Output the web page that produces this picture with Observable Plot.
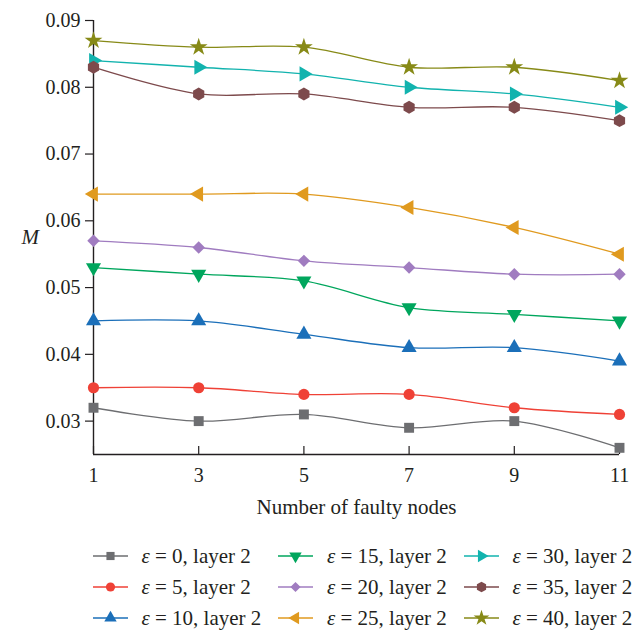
<!DOCTYPE html>
<html><head><meta charset="utf-8">
<script src="https://cdn.jsdelivr.net/npm/d3@7"></script>
<script src="https://cdn.jsdelivr.net/npm/@observablehq/plot@0.6"></script>
<style>
body{margin:0;background:#fff;font-family:"Liberation Serif",serif;color:#231f20;}
</style>
</head><body><script>
// Data
const nodes = [1, 3, 5, 7, 9, 11];
const epsilons = [0, 5, 10, 15, 20, 25, 30, 35, 40];
const layer = 2;
const m_eps0  = [0.032, 0.030, 0.031, 0.029, 0.030, 0.026];
const m_eps5  = [0.035, 0.035, 0.034, 0.034, 0.032, 0.031];
const m_eps10 = [0.045, 0.045, 0.043, 0.041, 0.041, 0.039];
const m_eps15 = [0.053, 0.052, 0.051, 0.047, 0.046, 0.045];
const m_eps20 = [0.057, 0.056, 0.054, 0.053, 0.052, 0.052];
const m_eps25 = [0.064, 0.064, 0.064, 0.062, 0.059, 0.055];
const m_eps30 = [0.084, 0.083, 0.082, 0.080, 0.079, 0.077];
const m_eps35 = [0.083, 0.079, 0.079, 0.077, 0.077, 0.075];
const m_eps40 = [0.087, 0.086, 0.086, 0.083, 0.083, 0.081];
const seriesValues = [m_eps0, m_eps5, m_eps10, m_eps15, m_eps20, m_eps25, m_eps30, m_eps35, m_eps40];
const xTicks = [1, 3, 5, 7, 9, 11];
const yTicks = [0.03, 0.04, 0.05, 0.06, 0.07, 0.08, 0.09];
const xLabel = "Number of faulty nodes";
const yLabel = "M";

// Styles
const colors = ["#6d6e71", "#ef4136", "#1b6fb9", "#00a65d", "#a07cc0", "#e09a1f", "#12b3ae", "#7d4a4c", "#878a17"];
const symbols = ["square", "circle", "triangle", "triangle", "diamond2", "triangle", "triangle", "hexagon", "star"];
const rotations = [0, 0, 0, 180, 0, -90, 90, 0, 0];

const names = epsilons.map(e => `ε = ${e}, layer ${layer}`);
const rows = [];
seriesValues.forEach((vals, i) => {
  vals.forEach((v, j) => rows.push({series: names[i], idx: i, x: nodes[j], y: v}));
});
const isStar = d => symbols[d.idx] === "star";

const yMin = 0.025, yMax = 0.09;
const ink = "#231f20";

const chart = Plot.plot({
  width: 641, height: 530,
  marginLeft: 93, marginRight: 22, marginTop: 20, marginBottom: 76,
  style: {fontFamily: "'Liberation Serif', serif", fontSize: "20px", color: ink, background: "#fff", overflow: "visible"},
  x: {domain: [1, 11]},
  y: {domain: [yMin, yMax]},
  color: {domain: names, range: colors},
  symbol: {domain: names, range: symbols},
  marks: [
    Plot.ruleX([1], {y1: yMin, y2: yMax, stroke: ink, strokeWidth: 1.4}),
    Plot.ruleY([yMin], {x1: 1, x2: 11, stroke: ink, strokeWidth: 1.4}),
    Plot.axisY(yTicks, {tickSize: 8, tickPadding: 5, tickFormat: d3.format(".2f"), label: null, stroke: ink, strokeWidth: 1.2, fontSize: 20}),
    Plot.axisX(xTicks, {tickSize: 0, tickPadding: 13, label: null, tickFormat: d => String(d), fontSize: 20}),
    Plot.ruleX(xTicks, {x: d => d, y1: yMin, y2: yMin + 0.0012, stroke: ink, strokeWidth: 1.2}),
    Plot.line(rows, {x: "x", y: "y", z: "series", stroke: "series", strokeWidth: 1.3, curve: "catmull-rom"}),
    Plot.dot(rows.filter(d => !isStar(d)), {x: "x", y: "y", symbol: "series", fill: "series", r: 5.6, rotate: d => rotations[d.idx], stroke: "none"}),
    Plot.dot(rows.filter(isStar), {x: "x", y: "y", symbol: "series", fill: "series", r: 5.6, stroke: "none"}),
    Plot.text([yLabel], {text: d => d, frameAnchor: "left", dx: -72, fontStyle: "italic", fill: ink, fontSize: 21}),
    Plot.text([xLabel], {text: d => d, frameAnchor: "bottom", dy: 59, fill: ink, fontSize: 21})
  ]
});
document.body.appendChild(chart);

// Legend
const sqrt3 = Math.sqrt(3);
const symbolHexagon = {
  draw(context, size) {
    const rx = Math.sqrt(size / Math.PI), ry = rx * 2 / sqrt3, hy = ry / 2;
    context.moveTo(0, ry); context.lineTo(rx, hy); context.lineTo(rx, -hy);
    context.lineTo(0, -ry); context.lineTo(-rx, -hy); context.lineTo(-rx, hy); context.closePath();
  }
};
const symbolTypes = {square: d3.symbolSquare, circle: d3.symbolCircle, triangle: d3.symbolTriangle, diamond2: d3.symbolDiamond2, hexagon: symbolHexagon, star: d3.symbolStar};

const legend = d3.select("body").append("div")
  .style("position", "relative").style("width", "641px").style("height", "101px");
names.forEach((name, i) => {
  const col = Math.floor(i / 3), row = i % 3;
  const item = legend.append("div")
    .style("position", "absolute")
    .style("left", (92.5 + col * 185.5) + "px")
    .style("top", (26 + row * 31 - 12) + "px")
    .style("height", "24px").style("display", "flex").style("align-items", "center")
    .style("white-space", "nowrap");
  const svg = item.append("svg").attr("width", 35).attr("height", 24);
  svg.append("line").attr("x1", 0).attr("x2", 35).attr("y1", 12).attr("y2", 12)
    .attr("stroke", colors[i]).attr("stroke-width", 1.3);
  const r = symbols[i] === "star" ? 5 : 4.6;
  svg.append("path").attr("transform", `translate(17.5,12) rotate(${rotations[i]})`)
    .attr("d", d3.symbol(symbolTypes[symbols[i]], r * r * Math.PI)())
    .attr("fill", colors[i]);
  const t = item.append("span").style("margin-left", "14px").style("font-size", "21px").style("color", ink);
  t.append("i").text("ε");
  t.append("span").text(` = ${epsilons[i]}, layer ${layer}`);
});
</script></body></html>
